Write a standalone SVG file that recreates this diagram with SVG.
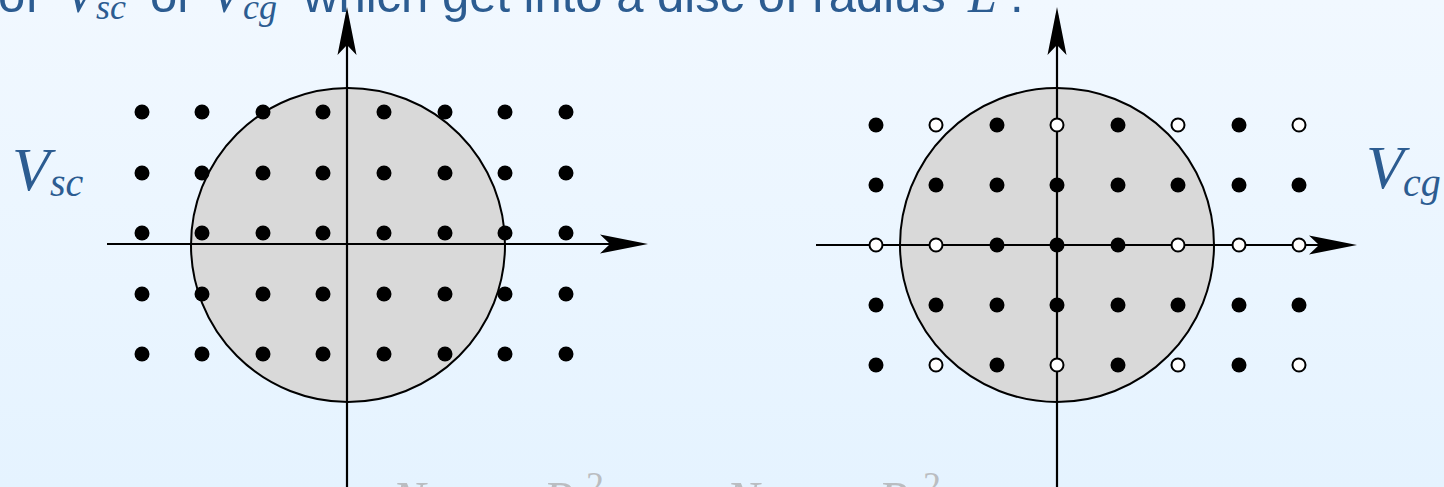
<svg xmlns="http://www.w3.org/2000/svg" width="1444" height="487" viewBox="0 0 1444 487">
  <defs>
    <linearGradient id="bg" x1="0" y1="0" x2="0" y2="1">
      <stop offset="0" stop-color="#f1f8ff"/>
      <stop offset="1" stop-color="#e5f3ff"/>
    </linearGradient>
    <marker id="arr" markerUnits="userSpaceOnUse" viewBox="0 0 48 20" refX="40" refY="10" markerWidth="48" markerHeight="20" orient="auto">
      <path d="M48,10 L0,0.5 L10,10 L0,19.5 Z" fill="#000"/>
    </marker>
    <style>
      .txt { font-family: "Liberation Sans", Arial, sans-serif; font-size: 49px; fill: #2c5c91; }
      .math { font-family: "Liberation Serif", "DejaVu Serif", serif; font-style: italic; fill: #2c5c91; }
      .faded { font-family: "Liberation Serif", "DejaVu Serif", serif; fill: #babdc1; }
      .axis { stroke: #000; stroke-width: 2.2; fill: none; }
      .disc { fill: #d9d9d9; stroke: #000; stroke-width: 2; }
      .dot { fill: #000; }
      .open { fill: #fff; stroke: #000; stroke-width: 2; }
    </style>
  </defs>
  <rect x="0" y="0" width="1444" height="487" fill="url(#bg)"/>

  <!-- top caption (clipped) -->
  <g id="caption">
    <text class="txt" x="-2" y="12">of</text>
    <text class="math" x="64" y="12" font-size="52">V</text>
    <text class="math" x="96" y="19" font-size="36">sc</text>
    <text class="txt" x="150" y="12">or</text>
    <text class="math" x="210" y="12" font-size="52">V</text>
    <text class="math" x="243" y="19" font-size="36">cg</text>
    <text class="txt" x="303" y="12">which get into a disc of radius</text>
    <text class="math" x="968" y="12" font-size="52">L</text>
    <text class="txt" x="1010" y="12">.</text>
  </g>

  <!-- left panel -->
  <g id="left-panel">
    <circle class="disc" cx="348" cy="245" r="157"/>
    <g id="left-axes">
      <line class="axis" x1="107" y1="244" x2="640" y2="244" marker-end="url(#arr)"/>
      <line class="axis" x1="347" y1="495" x2="347" y2="15" marker-end="url(#arr)"/>
    </g>
    <g id="left-dots" class="dot">
      <circle cx="142" cy="112" r="7.5"/><circle cx="202" cy="112" r="7.5"/><circle cx="263" cy="112" r="7.5"/><circle cx="323" cy="112" r="7.5"/><circle cx="384" cy="112" r="7.5"/><circle cx="445" cy="112" r="7.5"/><circle cx="505" cy="112" r="7.5"/><circle cx="566" cy="112" r="7.5"/>
      <circle cx="142" cy="173" r="7.5"/><circle cx="202" cy="173" r="7.5"/><circle cx="263" cy="173" r="7.5"/><circle cx="323" cy="173" r="7.5"/><circle cx="384" cy="173" r="7.5"/><circle cx="445" cy="173" r="7.5"/><circle cx="505" cy="173" r="7.5"/><circle cx="566" cy="173" r="7.5"/>
      <circle cx="142" cy="233" r="7.5"/><circle cx="202" cy="233" r="7.5"/><circle cx="263" cy="233" r="7.5"/><circle cx="323" cy="233" r="7.5"/><circle cx="384" cy="233" r="7.5"/><circle cx="445" cy="233" r="7.5"/><circle cx="505" cy="233" r="7.5"/><circle cx="566" cy="233" r="7.5"/>
      <circle cx="142" cy="294" r="7.5"/><circle cx="202" cy="294" r="7.5"/><circle cx="263" cy="294" r="7.5"/><circle cx="323" cy="294" r="7.5"/><circle cx="384" cy="294" r="7.5"/><circle cx="445" cy="294" r="7.5"/><circle cx="505" cy="294" r="7.5"/><circle cx="566" cy="294" r="7.5"/>
      <circle cx="142" cy="354" r="7.5"/><circle cx="202" cy="354" r="7.5"/><circle cx="263" cy="354" r="7.5"/><circle cx="323" cy="354" r="7.5"/><circle cx="384" cy="354" r="7.5"/><circle cx="445" cy="354" r="7.5"/><circle cx="505" cy="354" r="7.5"/><circle cx="566" cy="354" r="7.5"/>
    </g>
    <g id="label-vsc">
      <text class="math" x="12" y="190" font-size="62">V</text>
      <text class="math" x="50" y="196" font-size="40">sc</text>
    </g>
  </g>

  <!-- right panel -->
  <g id="right-panel">
    <circle class="disc" cx="1057" cy="245" r="157"/>
    <g id="right-axes">
      <line class="axis" x1="816" y1="245" x2="1349" y2="245" marker-end="url(#arr)"/>
      <line class="axis" x1="1057" y1="495" x2="1057" y2="15" marker-end="url(#arr)"/>
    </g>
    <g id="right-dots">
      <circle class="dot" cx="876" cy="125" r="7.5"/><circle class="open" cx="936" cy="125" r="6.5"/><circle class="dot" cx="997" cy="125" r="7.5"/><circle class="open" cx="1057" cy="125" r="6.5"/><circle class="dot" cx="1118" cy="125" r="7.5"/><circle class="open" cx="1178" cy="125" r="6.5"/><circle class="dot" cx="1239" cy="125" r="7.5"/><circle class="open" cx="1299" cy="125" r="6.5"/>
      <circle class="dot" cx="876" cy="185" r="7.5"/><circle class="dot" cx="936" cy="185" r="7.5"/><circle class="dot" cx="997" cy="185" r="7.5"/><circle class="dot" cx="1057" cy="185" r="7.5"/><circle class="dot" cx="1118" cy="185" r="7.5"/><circle class="dot" cx="1178" cy="185" r="7.5"/><circle class="dot" cx="1239" cy="185" r="7.5"/><circle class="dot" cx="1299" cy="185" r="7.5"/>
      <circle class="open" cx="876" cy="245" r="6.5"/><circle class="open" cx="936" cy="245" r="6.5"/><circle class="dot" cx="997" cy="245" r="7.5"/><circle class="dot" cx="1057" cy="245" r="7.5"/><circle class="dot" cx="1118" cy="245" r="7.5"/><circle class="open" cx="1178" cy="245" r="6.5"/><circle class="open" cx="1239" cy="245" r="6.5"/><circle class="open" cx="1299" cy="245" r="6.5"/>
      <circle class="dot" cx="876" cy="305" r="7.5"/><circle class="dot" cx="936" cy="305" r="7.5"/><circle class="dot" cx="997" cy="305" r="7.5"/><circle class="dot" cx="1057" cy="305" r="7.5"/><circle class="dot" cx="1118" cy="305" r="7.5"/><circle class="dot" cx="1178" cy="305" r="7.5"/><circle class="dot" cx="1239" cy="305" r="7.5"/><circle class="dot" cx="1299" cy="305" r="7.5"/>
      <circle class="dot" cx="876" cy="365" r="7.5"/><circle class="open" cx="936" cy="365" r="6.5"/><circle class="dot" cx="997" cy="365" r="7.5"/><circle class="open" cx="1057" cy="365" r="6.5"/><circle class="dot" cx="1118" cy="365" r="7.5"/><circle class="open" cx="1178" cy="365" r="6.5"/><circle class="dot" cx="1239" cy="365" r="7.5"/><circle class="open" cx="1299" cy="365" r="6.5"/>
    </g>
    <g id="label-vcg">
      <text class="math" x="1366" y="188" font-size="62">V</text>
      <text class="math" x="1403" y="196" font-size="40">cg</text>
    </g>
  </g>

  <!-- bottom formula (clipped) -->
  <g id="formula">
    <text class="faded" x="392" y="516" font-size="50" font-style="italic">N</text>
    <text class="faded" x="440" y="524" font-size="36" font-style="italic">sc</text>
    <text class="faded" x="482" y="516" font-size="50">∼</text>
    <text class="faded" x="543" y="516" font-size="50" font-style="italic">R</text>
    <text class="faded" x="586" y="497" font-size="36">2</text>
    <text class="faded" x="726" y="516" font-size="50" font-style="italic">N</text>
    <text class="faded" x="774" y="524" font-size="36" font-style="italic">cg</text>
    <text class="faded" x="818" y="516" font-size="50">∼</text>
    <text class="faded" x="878" y="516" font-size="50" font-style="italic">R</text>
    <text class="faded" x="923" y="497" font-size="36">2</text>
  </g>
</svg>
